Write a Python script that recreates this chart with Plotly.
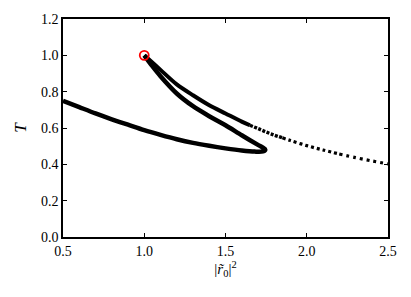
import plotly.graph_objects as go

# Lower branch + returning loop
loop_x = [0.5, 0.6, 0.7, 0.8, 0.9, 1.0, 1.1, 1.2, 1.3, 1.4, 1.5, 1.6, 1.68, 1.73, 1.745,
          1.73, 1.7, 1.6, 1.5, 1.4, 1.3, 1.2, 1.1, 1.05, 1.0]
loop_y = [0.75, 0.715, 0.68, 0.648, 0.618, 0.588, 0.562, 0.538, 0.518, 0.502, 0.488, 0.476, 0.47, 0.471, 0.481,
          0.492, 0.507, 0.56, 0.615, 0.665, 0.72, 0.79, 0.885, 0.94, 1.0]

# Upper branch, dense part
up_x = [1.0, 1.05, 1.1, 1.2, 1.3, 1.4, 1.5, 1.6, 1.65]
up_y = [1.0, 0.96, 0.92, 0.84, 0.78, 0.725, 0.68, 0.635, 0.615]

# Upper branch, sparser tail (three spacing zones)
tail1_x = [1.65, 1.7, 1.75, 1.8, 1.85]
tail1_y = [0.615, 0.597, 0.578, 0.561, 0.546]
tail2_x = [1.85, 1.9, 2.0, 2.1, 2.2]
tail2_y = [0.546, 0.531, 0.503, 0.479, 0.457]
tail3_x = [2.2, 2.3, 2.4, 2.5]
tail3_y = [0.457, 0.437, 0.419, 0.402]

pt_x = [1.0]
pt_y = [1.0]

SERIF = "Liberation Serif, Times New Roman, Times, serif"

fig = go.Figure()
fig.add_trace(go.Scatter(x=loop_x, y=loop_y, mode="lines",
                         line=dict(color="black", width=4.5, shape="spline", smoothing=0.8)))
fig.add_trace(go.Scatter(x=up_x, y=up_y, mode="lines",
                         line=dict(color="black", width=4, shape="spline", smoothing=0.8)))
fig.add_trace(go.Scatter(x=tail1_x, y=tail1_y, mode="lines",
                         line=dict(color="black", width=3.4, shape="spline", dash="3px,1.5px")))
fig.add_trace(go.Scatter(x=tail2_x, y=tail2_y, mode="lines",
                         line=dict(color="black", width=3.2, shape="spline", dash="3px,3px")))
fig.add_trace(go.Scatter(x=tail3_x, y=tail3_y, mode="lines",
                         line=dict(color="black", width=3.2, shape="spline", dash="3px,4px")))
fig.add_trace(go.Scatter(x=pt_x, y=pt_y, mode="markers",
                         marker=dict(symbol="circle-open", size=9, color="red",
                                     line=dict(color="red", width=1.8))))

axis_common = dict(showline=True, linecolor="black", linewidth=1.5, mirror="ticks",
                   ticks="inside", ticklen=4, tickwidth=1.2, tickcolor="black",
                   showgrid=False, zeroline=False,
                   tickfont=dict(family=SERIF, size=14, color="black"))

fig.update_layout(
    width=411, height=297,
    margin=dict(l=63, r=23, t=17, b=60),
    paper_bgcolor="white", plot_bgcolor="white",
    showlegend=False,
    font=dict(family=SERIF, size=14, color="black"),
    xaxis=dict(range=[0.5, 2.5], tickvals=[0.5, 1.0, 1.5, 2.0, 2.5],
               ticktext=["0.5", "1.0", "1.5", "2.0", "2.5"],
               title=dict(text="|<i>r̃</i><sub>0</sub>|<sup>2</sup>", standoff=6,
                          font=dict(family=SERIF, size=15)),
               **axis_common),
    yaxis=dict(range=[0, 1.2], tickvals=[0, 0.2, 0.4, 0.6, 0.8, 1.0, 1.2],
               ticktext=["0.0", "0.2", "0.4", "0.6", "0.8", "1.0", "1.2"],
               title=dict(text="<i>T</i>", standoff=10,
                          font=dict(family=SERIF, size=17)),
               **axis_common),
)

fig.write_html("out.html", config={"displayModeBar": False},
               post_script="document.body.style.margin='0';")
